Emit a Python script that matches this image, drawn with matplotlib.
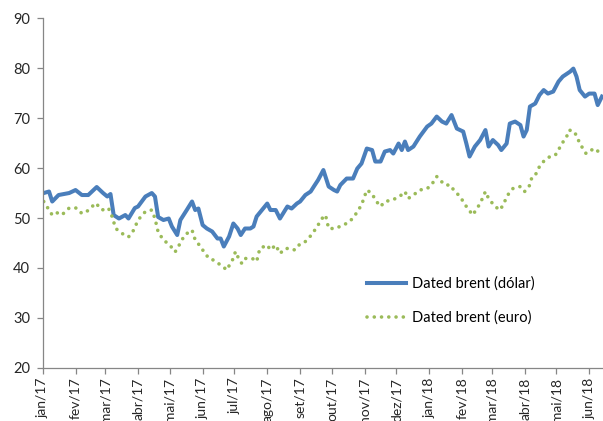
import numpy as np
import matplotlib
matplotlib.use("Agg")
import matplotlib.pyplot as plt

plt.rcParams["font.family"] = ["Lato", "DejaVu Sans"]

# Dias desde 01/01/2017 e cotações
dias_dolar = [1, 6, 9, 15, 25, 31, 37, 43, 51, 57, 61, 64, 67, 72, 78, 81, 87, 90,
              97, 103, 106, 109, 114, 119, 122, 127, 130, 136, 141, 144, 147, 151,
              155, 160, 165, 168, 171, 176, 180, 184, 187, 191, 196, 199, 202, 207,
              212, 215, 220, 224, 231, 235, 240, 243, 248, 253, 256, 260, 265, 270,
              275, 278, 281, 287, 293, 297, 301, 306, 311, 314, 319, 323, 328, 331,
              336, 339, 342, 345, 350, 356, 363, 367, 372, 377, 381, 386, 391, 397,
              400, 403, 408, 413, 418, 421, 425, 430, 433, 438, 441, 446, 451, 454,
              457, 460, 465, 469, 473, 477, 482, 487, 491, 498, 501, 504, 507, 512,
              516, 521, 524, 528]
brent_dolar = [55.0, 55.3, 53.3, 54.6, 55.0, 55.6, 54.6, 54.6, 56.2, 55.0, 54.3, 54.8,
               50.6, 49.9, 50.6, 49.9, 52.0, 52.3, 54.3, 55.0, 54.3, 50.2, 49.6, 49.9,
               48.3, 46.6, 49.6, 51.6, 53.3, 51.6, 51.9, 48.6, 47.9, 47.3, 45.9, 45.9,
               44.3, 46.3, 48.9, 47.9, 46.6, 47.9, 47.9, 48.3, 50.3, 51.6, 52.9, 51.6,
               51.6, 49.9, 52.3, 51.9, 52.9, 53.3, 54.6, 55.3, 56.3, 57.6, 59.6, 56.3,
               55.6, 55.3, 56.6, 57.9, 57.9, 59.9, 60.9, 63.9, 63.6, 61.3, 61.3, 63.3,
               63.6, 62.9, 64.9, 63.6, 65.3, 63.6, 64.3, 66.3, 68.3, 68.9, 70.3, 69.3,
               68.9, 70.6, 67.9, 67.3, 64.9, 62.3, 64.3, 65.6, 67.6, 64.3, 65.6, 64.6,
               63.6, 64.9, 68.9, 69.3, 68.6, 66.3, 67.6, 72.3, 72.9, 74.6, 75.6, 74.9,
               75.3, 77.3, 78.3, 79.3, 79.9, 78.3, 75.6, 74.3, 74.9, 74.9, 72.6, 74.3]

dias_euro = [1, 9, 13, 18, 25, 32, 37, 43, 50, 56, 62, 65, 69, 75, 81, 86, 90, 97,
             103, 106, 109, 114, 120, 125, 130, 134, 141, 144, 149, 152, 157, 161,
             168, 174, 177, 180, 182, 185, 188, 191, 198, 202, 205, 212, 215, 220,
             224, 229, 234, 238, 242, 246, 251, 256, 260, 265, 267, 270, 276, 284,
             290, 295, 301, 306, 311, 314, 319, 323, 330, 337, 342, 345, 350, 356,
             363, 367, 372, 375, 380, 385, 388, 394, 400, 406, 413, 418, 421, 427,
             432, 440, 444, 451, 455, 460, 462, 466, 469, 474, 479, 484, 487, 490,
             494, 497, 502, 505, 508, 513, 518, 522, 526]
brent_euro = [53.3, 50.6, 51.1, 50.6, 52.0, 52.0, 50.9, 51.5, 53.0, 51.6, 52.0, 50.6,
              47.9, 46.9, 46.2, 47.6, 49.6, 51.3, 51.6, 49.9, 47.2, 45.6, 44.6, 43.2,
              45.0, 46.6, 47.6, 45.6, 44.3, 43.3, 41.9, 41.6, 40.6, 39.6, 40.9, 41.9,
              43.3, 41.9, 40.9, 41.9, 41.9, 41.3, 43.9, 44.6, 43.6, 44.6, 42.9, 43.9,
              43.9, 43.6, 44.6, 44.9, 45.9, 47.3, 48.6, 50.3, 50.6, 47.9, 47.9, 48.6,
              49.3, 50.6, 52.6, 55.6, 54.9, 53.6, 52.3, 53.3, 53.6, 54.3, 55.3, 53.9,
              54.6, 55.6, 55.9, 56.6, 58.3, 57.6, 56.6, 56.6, 55.6, 54.3, 52.3, 50.6,
              52.9, 55.3, 53.9, 52.3, 51.6, 54.9, 55.9, 56.3, 55.3, 56.6, 58.3, 58.9,
              60.3, 61.6, 62.3, 62.6, 63.6, 64.9, 65.9, 67.6, 67.3, 65.9, 64.6, 62.9,
              63.6, 63.9, 62.9]

meses = ["jan/17", "fev/17", "mar/17", "abr/17", "mai/17", "jun/17", "jul/17",
         "ago/17", "set/17", "out/17", "nov/17", "dez/17", "jan/18", "fev/18",
         "mar/18", "abr/18", "mai/18", "jun/18"]

inicio = np.datetime64("2017-01-01")
datas_dolar = inicio + np.array(dias_dolar).astype("timedelta64[D]")
datas_euro = inicio + np.array(dias_euro).astype("timedelta64[D]")
ticks = np.arange("2017-01", "2018-07", dtype="datetime64[M]").astype("datetime64[D]")

cinza = "#868686"

fig = plt.figure(figsize=(6.03, 4.21), dpi=100)
ax = fig.add_axes([0.0708, 0.126, 0.9292, 0.831])

ax.plot(datas_dolar, brent_dolar, color="#4A7EBB", lw=2.9,
        solid_joinstyle="round", label="Dated brent (dólar)")
ax.plot(datas_euro, brent_euro, color="#9BBB59", lw=2.6,
        linestyle=(0, (0.01, 2.0)), dash_capstyle="round",
        label="Dated brent (euro)")

ax.set_ylim(20, 90)
ax.set_yticks(range(20, 91, 10))
ax.set_xlim(inicio, inicio + np.timedelta64(529, "D"))
ax.set_xticks(ticks)
# os rótulos ficam cortados em baixo, como no original
ax.set_xticklabels(meses, rotation=90, ha="center", va="top")

for lado in ["top", "right"]:
    ax.spines[lado].set_visible(False)
for lado in ["left", "bottom"]:
    ax.spines[lado].set_color(cinza)
    ax.spines[lado].set_linewidth(0.9)
ax.tick_params(axis="both", colors=cinza, labelcolor="#262626",
               labelsize=10, length=4, width=0.9, direction="out")
ax.tick_params(axis="y", labelsize=10.5, pad=5)
ax.tick_params(axis="x", pad=3)

ax.legend(loc="upper left", bbox_to_anchor=(0.579, 0.262), frameon=False,
          fontsize=10.5, handlelength=2.7, handletextpad=0.4, labelspacing=1.35,
          borderpad=0, borderaxespad=0)

plt.savefig("out.png", dpi=100)
